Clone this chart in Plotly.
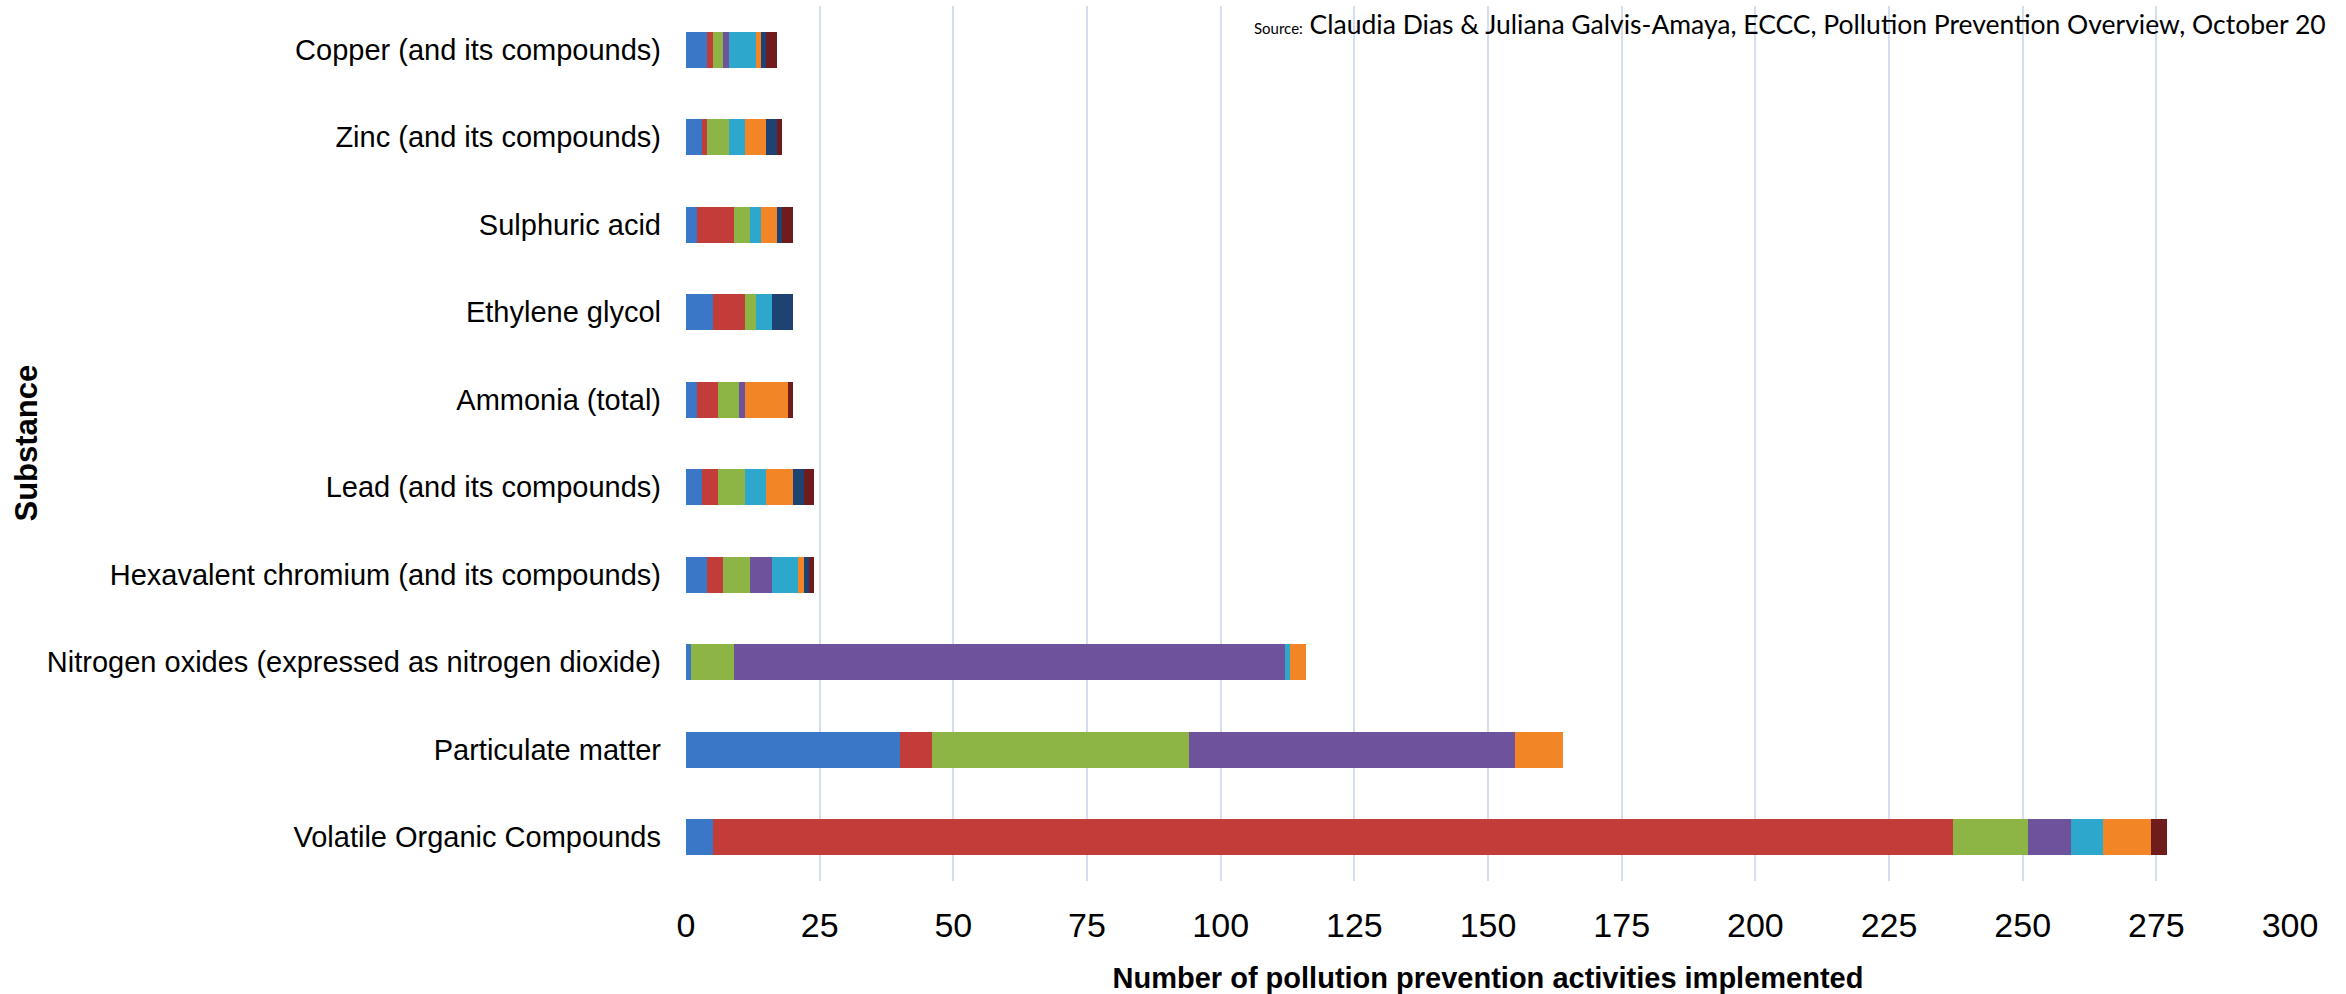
import plotly.graph_objects as go

substances = [
    "Volatile Organic Compounds",
    "Particulate matter",
    "Nitrogen oxides (expressed as nitrogen dioxide)",
    "Hexavalent chromium (and its compounds)",
    "Lead (and its compounds)",
    "Ammonia (total)",
    "Ethylene glycol",
    "Sulphuric acid",
    "Zinc (and its compounds)",
    "Copper (and its compounds)",
]

series_names = ["Series 1", "Series 2", "Series 3", "Series 4",
                "Series 5", "Series 6", "Series 7", "Series 8"]

s1 = [5, 40, 1, 4, 3, 2, 5, 2, 3, 4]
s2 = [232, 6, 0, 3, 3, 4, 6, 7, 1, 1]
s3 = [14, 48, 8, 5, 5, 4, 2, 3, 4, 2]
s4 = [8, 61, 103, 4, 0, 1, 0, 0, 0, 1]
s5 = [6, 0, 1, 5, 4, 0, 3, 2, 3, 5]
s6 = [9, 9, 3, 1, 5, 8, 0, 3, 4, 1]
s7 = [0, 0, 0, 1, 2, 0, 4, 1, 2, 1]
s8 = [3, 0, 0, 1, 2, 1, 0, 2, 1, 2]

series_values = [s1, s2, s3, s4, s5, s6, s7, s8]
colors = ["#3A78C7", "#C23C39", "#8DB545", "#6F529C",
          "#2DA7CB", "#F28626", "#1E4372", "#701C1C"]

x_ticks = [0, 25, 50, 75, 100, 125, 150, 175, 200, 225, 250, 275, 300]

fig = go.Figure()
for name, vals, col in zip(series_names, series_values, colors):
    fig.add_trace(go.Bar(
        y=substances, x=vals, name=name, orientation="h",
        marker=dict(color=col, line=dict(width=0)),
    ))

fig.update_layout(
    barmode="stack",
    bargap=0.59,
    width=2346, height=994,
    paper_bgcolor="white", plot_bgcolor="white",
    showlegend=False,
    margin=dict(l=686, r=56, t=6, b=113),
    font=dict(family="Liberation Sans, Arial, sans-serif", color="#000000"),
    xaxis=dict(
        range=[0, 300], tickvals=x_ticks, ticktext=[str(v) for v in x_ticks],
        showgrid=True, gridcolor="#D3DFF0", gridwidth=2,
        zeroline=False, showline=False, ticks="",
        ticklabelstandoff=21,
        tickfont=dict(family="Liberation Sans, Arial, sans-serif", size=34),
        title=dict(text="<b>Number of pollution prevention activities implemented</b>",
                   font=dict(family="Liberation Sans, Arial, sans-serif", size=29),
                   standoff=24),
    ),
    yaxis=dict(
        categoryorder="array", categoryarray=substances,
        showgrid=False, zeroline=False, showline=False, ticks="",
        ticklabelstandoff=24,
        tickfont=dict(family="Liberation Sans, Arial, sans-serif", size=29),
    ),
)

fig.add_annotation(
    xref="paper", yref="paper",
    x=(26 - 686) / (2290 - 686), y=0.5, xanchor="center", yanchor="middle",
    text="<b>Substance</b>", textangle=-90, showarrow=False,
    font=dict(family="Liberation Sans, Arial, sans-serif", size=31, color="#000000"),
)

fig.add_annotation(
    xref="paper", yref="paper",
    x=(1252 - 686) / (2290 - 686), y=1.0, xanchor="left", yanchor="bottom",
    yshift=-36,
    text="<span style='font-size:15px'>Source:</span> Claudia Dias &amp; Juliana Galvis-Amaya, ECCC, Pollution Prevention Overview, October 20",
    showarrow=False,
    font=dict(family="Lato, Open Sans, sans-serif", size=26.5, color="#000000"),
)

fig.write_html("out.html")
